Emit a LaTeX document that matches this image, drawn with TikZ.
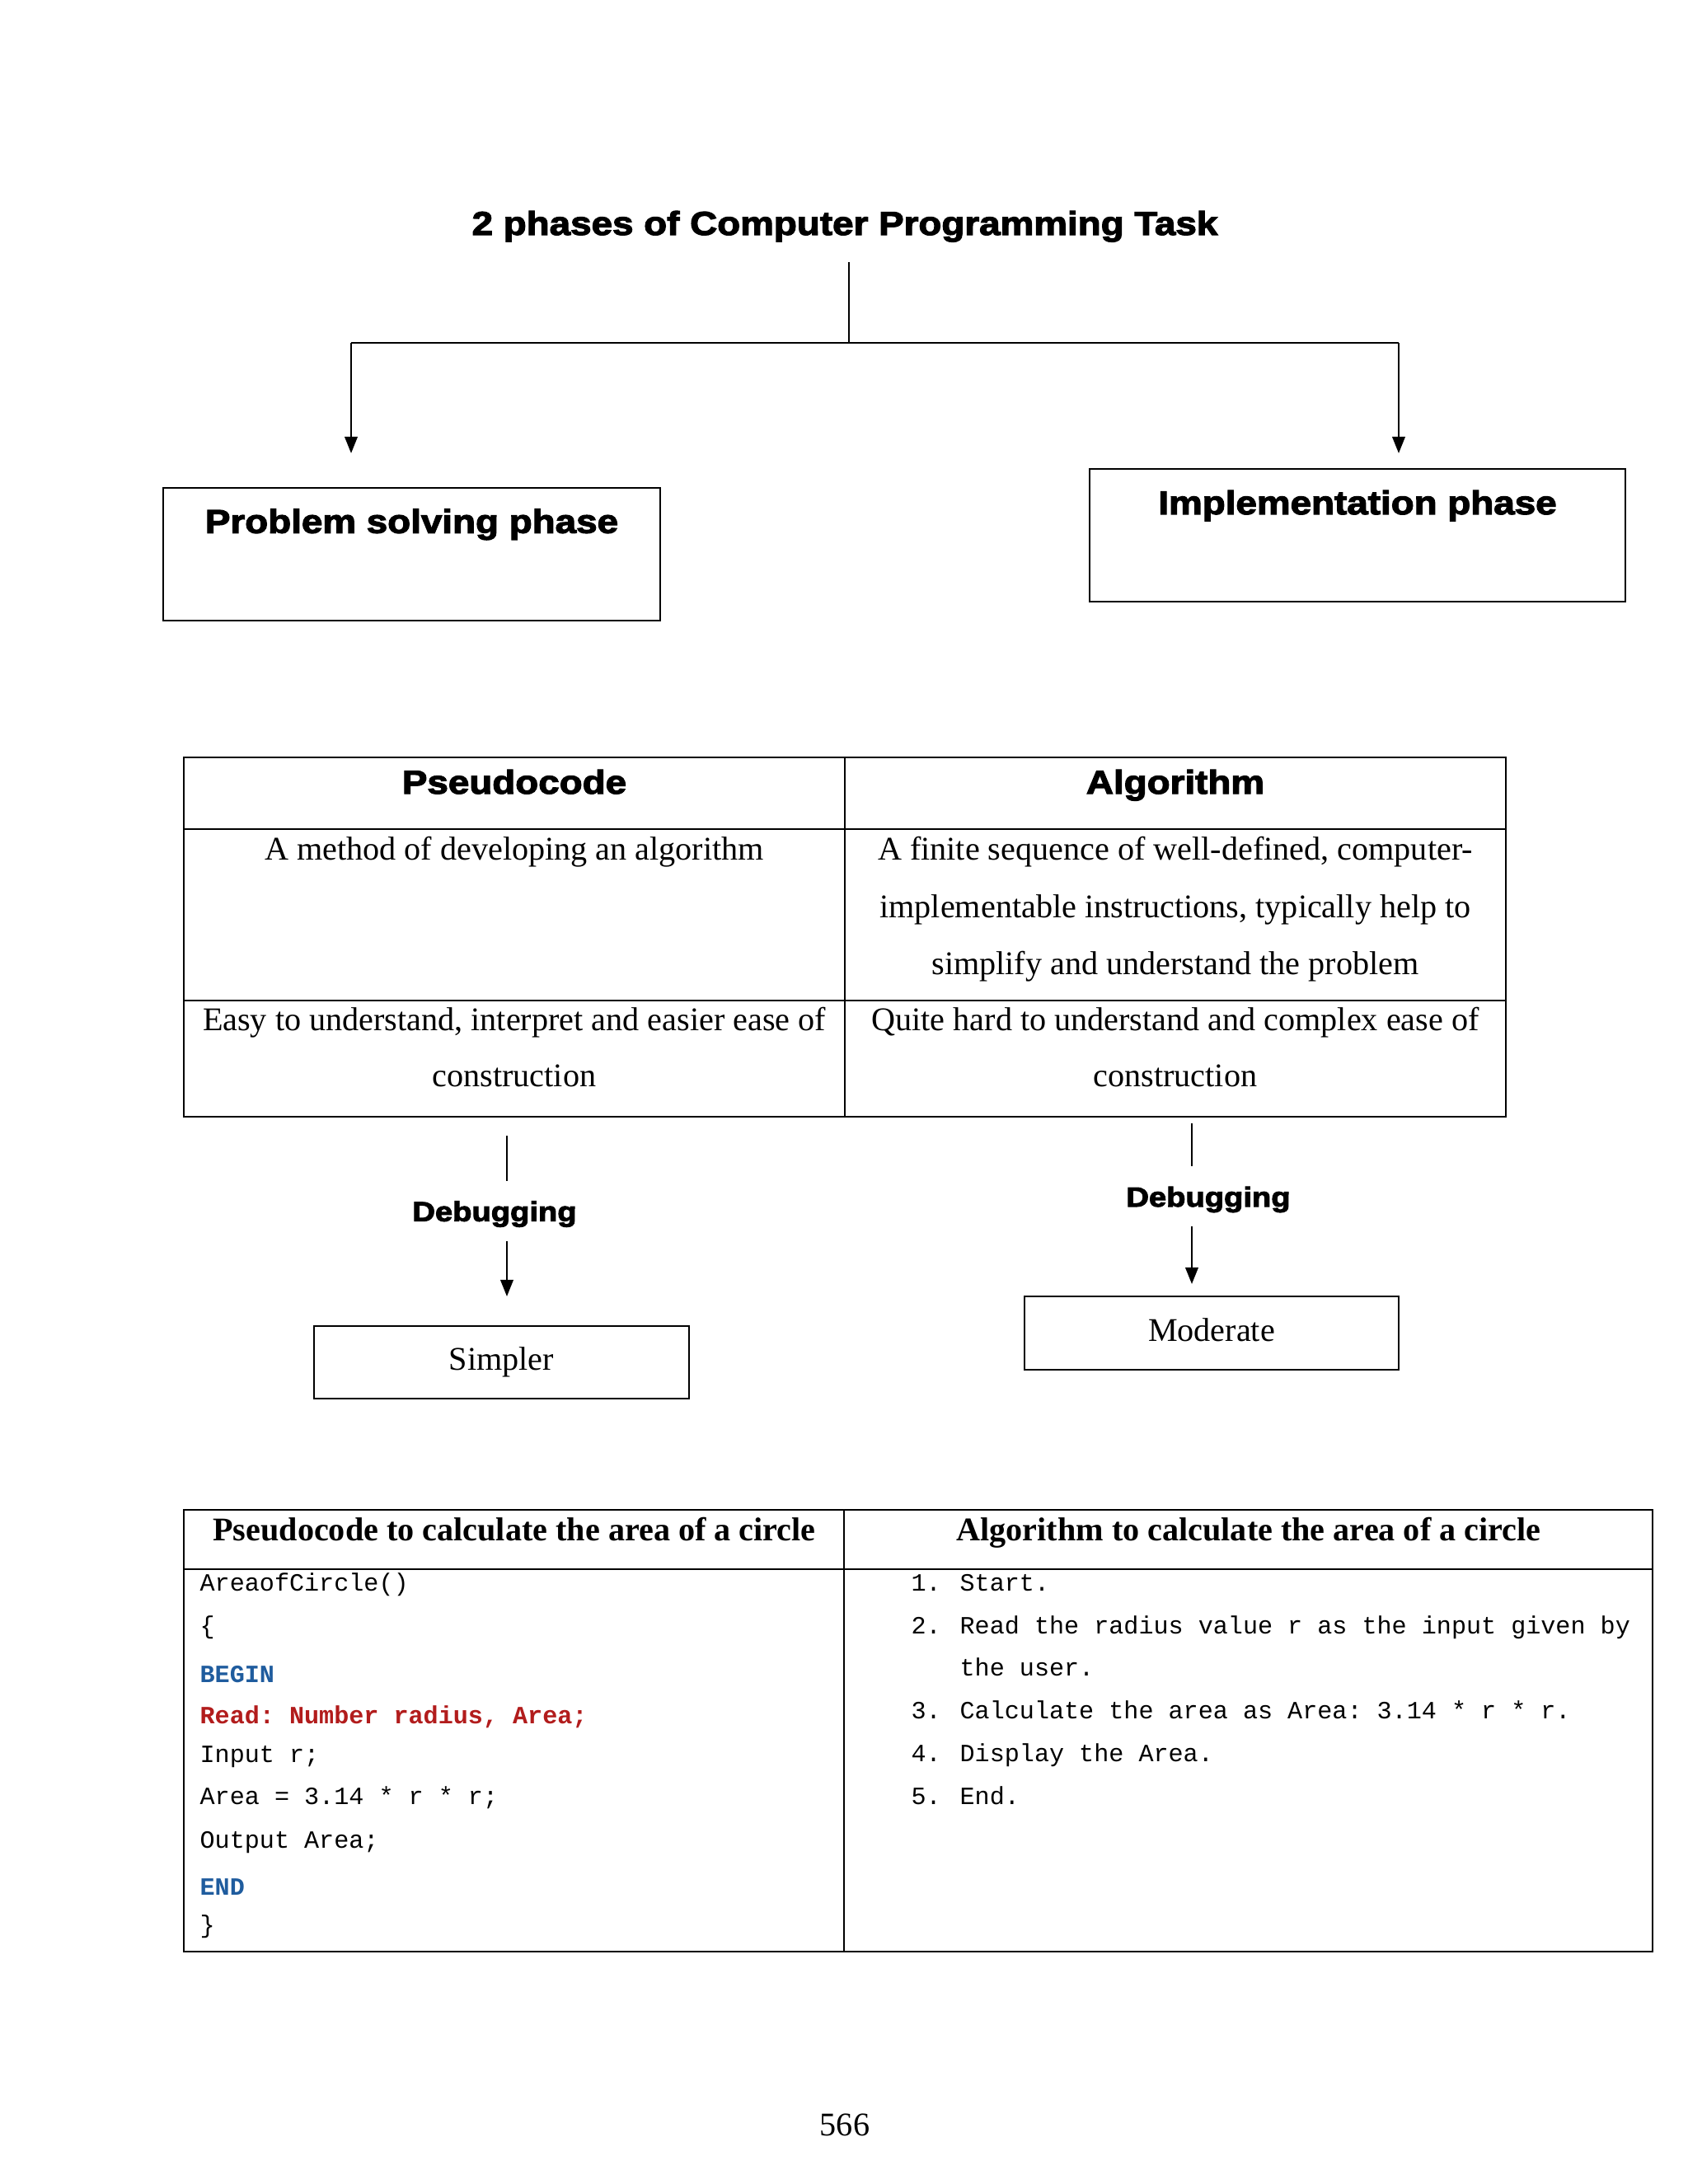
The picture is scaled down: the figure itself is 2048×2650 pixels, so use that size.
\documentclass[tikz,border=0pt]{standalone}
\usepackage{fontspec}
\setmainfont{Liberation Serif}
\setmonofont{Liberation Mono}
\newfontfamily\blackfont[FakeStretch=1.14,BoldFeatures={FakeBold=3}]{Liberation Sans}
\usetikzlibrary{arrows.meta}
\definecolor{kwblue}{RGB}{31,92,158}
\definecolor{kwred}{RGB}{178,28,28}
\newdimen\pxu \pxu=0.298828pt
\begin{document}
\begin{tikzpicture}[x=0.298828pt, y=-0.298828pt,
  hd/.style={font=\blackfont\bfseries\fontsize{12}{14}\selectfont},
  dbg/.style={font=\blackfont\bfseries\fontsize{10}{12}\selectfont, anchor=base},
  rm/.style={font=\fontsize{12}{14}\selectfont, anchor=base, inner sep=0},
  rmb/.style={font=\bfseries\fontsize{12}{14}\selectfont, anchor=base, inner sep=0},
  code/.style={font=\ttfamily\fontsize{9}{11}\selectfont, anchor=base west, inner sep=0},
  box/.style={draw, line width=0.75pt, inner sep=0},
  arr/.style={-{Triangle[length=6pt,width=4.6pt]}, line width=0.75pt},
  ln/.style={line width=0.75pt},
  grid/.style={line width=0.6pt}]
\useasboundingbox (0,0) rectangle (2048,2650);
\fill[white] (0,0) rectangle (2048,2650);

% title and split
\node[hd, anchor=base] (title) at (1025,285) {2 phases of Computer Programming Task};
\coordinate (j0) at (1030,318);
\coordinate (j)  at (1030,416);
\coordinate (jl) at (426,416);
\coordinate (jr) at (1697,416);
\coordinate (al) at (426,550);
\coordinate (ar) at (1697,550);
\draw[ln] (j0) -- (j);
\draw[ln] (jl) -- (jr);
\draw[arr] (jl) -- (al);
\draw[arr] (jr) -- (ar);

% phase boxes
\node[box, minimum width=603\pxu, minimum height=161\pxu,
  label={[hd, anchor=base, yshift=-16.7pt]north:Problem solving phase}] (ps) at (499.5,672.5) {};
\node[box, minimum width=650\pxu, minimum height=161\pxu,
  label={[hd, anchor=base, yshift=-16.8pt]north:Implementation phase}] (im) at (1647,649.5) {};

% comparison table
\draw[grid] (223,919) rectangle (1827,1355);
\draw[grid] (223,1006) -- (1827,1006);
\draw[grid] (223,1214) -- (1827,1214);
\draw[grid] (1025,919) -- (1025,1355);
\node[hd, anchor=base] (h1) at (624,963) {Pseudocode};
\node[hd, anchor=base] (h2) at (1426,963) {Algorithm};
\node[rm] (c1) at (624,1043) {A method of developing an algorithm};
\node[rm] (c2a) at (1426,1043) {A finite sequence of well-defined, computer-};
\node[rm] (c2b) at (1426,1113) {implementable instructions, typically help to};
\node[rm] (c2c) at (1426,1182) {simplify and understand the problem};
\node[rm] (c3a) at (624,1250) {Easy to understand, interpret and easier ease of};
\node[rm] (c3b) at (624,1318) {construction};
\node[rm] (c4a) at (1426,1250) {Quite hard to understand and complex ease of};
\node[rm] (c4b) at (1426,1318) {construction};

% debugging left
\coordinate (d1a) at (615,1378);
\coordinate (d1b) at (615,1433);
\coordinate (d1c) at (615,1506);
\coordinate (d1d) at (615,1573);
\draw[ln] (d1a) -- (d1b);
\node[dbg] (dbg1) at (600,1481.7) {Debugging};
\draw[arr] (d1c) -- (d1d);
\node[box, minimum width=455\pxu, minimum height=88\pxu, font=\fontsize{12}{14}\selectfont,
  text depth=2.6pt] (simp) at (608.5,1653) {Simpler};

% debugging right
\coordinate (d2a) at (1446,1363);
\coordinate (d2b) at (1446,1415);
\coordinate (d2c) at (1446,1488);
\coordinate (d2d) at (1446,1558);
\draw[ln] (d2a) -- (d2b);
\node[dbg] (dbg2) at (1466,1464) {Debugging};
\draw[arr] (d2c) -- (d2d);
\node[box, minimum width=454\pxu, minimum height=89\pxu, font=\fontsize{12}{14}\selectfont,
  text depth=2.6pt] (mod) at (1470,1617.5) {Moderate};

% code table
\draw[grid] (223,1832) rectangle (2005,2368);
\draw[grid] (223,1904) -- (2005,1904);
\draw[grid] (1024,1832) -- (1024,2368);
\node[rmb] (t1) at (624,1869) {Pseudocode to calculate the area of a circle};
\node[rmb] (t2) at (1515,1869) {Algorithm to calculate the area of a circle};

\node[code] (p1) at (242,1930.5) {AreaofCircle()};
\node[code] (p2) at (242,1982) {\{};
\node[code, text=kwblue, font=\ttfamily\bfseries\fontsize{9}{11}\selectfont] (p3) at (242,2041) {BEGIN};
\node[code, text=kwred, font=\ttfamily\bfseries\fontsize{9}{11}\selectfont] (p4) at (242,2091.7) {Read: Number radius, Area;};
\node[code] (p5) at (242,2138) {Input r;};
\node[code] (p6) at (242,2189.6) {Area = 3.14 * r * r;};
\node[code] (p7) at (242,2242) {Output Area;};
\node[code, text=kwblue, font=\ttfamily\bfseries\fontsize{9}{11}\selectfont] (p8) at (242,2299) {END};
\node[code] (p9) at (242,2345) {\}};

\node[code] (n1) at (1105,1930.5) {1.};
\node[code] (a1) at (1164,1930.5) {Start.};
\node[code] (n2) at (1105,1982) {2.};
\node[code] (a2) at (1164,1982) {Read the radius value r as the input given by};
\node[code] (a2b) at (1164,2033.8) {the user.};
\node[code] (n3) at (1105,2085.6) {3.};
\node[code] (a3) at (1164,2085.6) {Calculate the area as Area: 3.14 * r * r.};
\node[code] (n4) at (1105,2137.8) {4.};
\node[code] (a4) at (1164,2137.8) {Display the Area.};
\node[code] (n5) at (1105,2189.6) {5.};
\node[code] (a5) at (1164,2189.6) {End.};

% page number
\node[rm] (pg) at (1025,2591) {566};
\end{tikzpicture}
\end{document}
